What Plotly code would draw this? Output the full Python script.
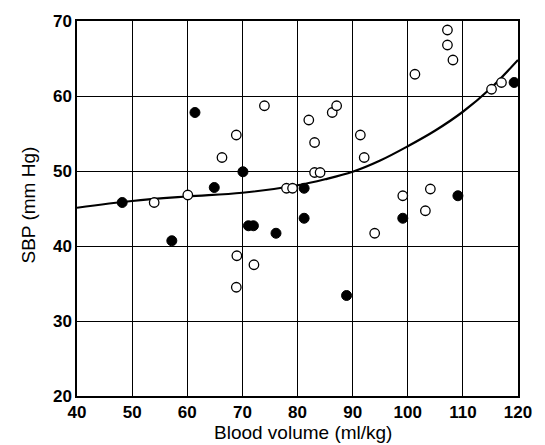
import plotly.graph_objects as go

# Open circles
open_x = [54, 60.1, 66.3, 68.9, 74, 78, 79.1, 82.05, 83.1, 83.1, 84.1, 86.3, 87.1, 91.4, 92.1,
          101.3, 107.2, 107.2, 108.2, 115.2, 117, 99.1, 104.1, 103.2, 94, 69, 72.1, 68.9]
open_y = [45.8, 46.8, 51.8, 54.8, 58.7, 47.7, 47.7, 56.8, 53.8, 49.8, 49.8, 57.8, 58.7, 54.8, 51.8,
          62.9, 68.8, 66.8, 64.8, 60.9, 61.8, 46.7, 47.6, 44.7, 41.7, 38.7, 37.5, 34.5]

# Filled circles
filled_x = [48.2, 61.4, 64.9, 70.1, 81.2, 119.3, 81.2, 99.1, 109.1, 57.2, 71.1, 72, 76.1, 88.9]
filled_y = [45.8, 57.8, 47.8, 49.9, 47.7, 61.8, 43.7, 43.7, 46.7, 40.7, 42.7, 42.7, 41.7, 33.4]

# Fitted curve
curve_x = [40, 50, 60, 70, 80, 85, 90, 95, 100, 105, 110, 115, 120]
curve_y = [45.1, 46.0, 46.6, 47.1, 48.1, 48.9, 49.9, 51.4, 53.3, 55.4, 57.9, 61.0, 64.8]

x_ticks = [40, 50, 60, 70, 80, 90, 100, 110, 120]
y_ticks = [20, 30, 40, 50, 60, 70]
x_title = "Blood volume (ml/kg)"
y_title = "SBP (mm Hg)"

fig = go.Figure()
fig.add_trace(go.Scatter(x=curve_x, y=curve_y, mode="lines",
                         line=dict(color="black", width=2.2, shape="spline"),
                         showlegend=False, hoverinfo="skip"))
fig.add_trace(go.Scatter(x=open_x, y=open_y, mode="markers",
                         marker=dict(size=9.5, color="white", line=dict(color="black", width=1.3)),
                         showlegend=False))
fig.add_trace(go.Scatter(x=filled_x, y=filled_y, mode="markers",
                         marker=dict(size=10, color="black", line=dict(color="black", width=1)),
                         showlegend=False))

font_family = "Liberation Sans, Arial, sans-serif"
tick_font = dict(size=17, family=font_family, color="black")
fig.update_layout(
    width=545, height=445,
    margin=dict(l=77, r=27, t=18, b=49),
    paper_bgcolor="white", plot_bgcolor="white",
    font=dict(family=font_family, color="black"),
    xaxis=dict(range=[40, 120], tickvals=x_ticks, ticktext=[f"<b>{v}</b>" for v in x_ticks],
               showgrid=True, gridcolor="black", gridwidth=1,
               showline=True, linecolor="black", linewidth=1.5, mirror=True,
               zeroline=False, ticks="", ticklen=0, tickfont=tick_font),
    yaxis=dict(range=[20, 70], tickvals=y_ticks, ticktext=[f"<b>{v}</b>" for v in y_ticks],
               showgrid=True, gridcolor="black", gridwidth=1,
               showline=True, linecolor="black", linewidth=1.5, mirror=True,
               zeroline=False, ticks="", ticklen=0, tickfont=tick_font),
    annotations=[
        dict(text=x_title, xref="paper", yref="paper", x=0.512, y=0, yshift=-36,
             xanchor="center", yanchor="middle", showarrow=False,
             font=dict(size=19, family=font_family, color="black")),
        dict(text=y_title, xref="paper", yref="paper", x=0, y=0.508, xshift=-49,
             xanchor="center", yanchor="middle", textangle=-90, showarrow=False,
             font=dict(size=19, family=font_family, color="black")),
    ],
)

fig.write_html("out.html", config={"displayModeBar": False},
               post_script="document.body.style.margin='0';document.body.style.padding='0';")
